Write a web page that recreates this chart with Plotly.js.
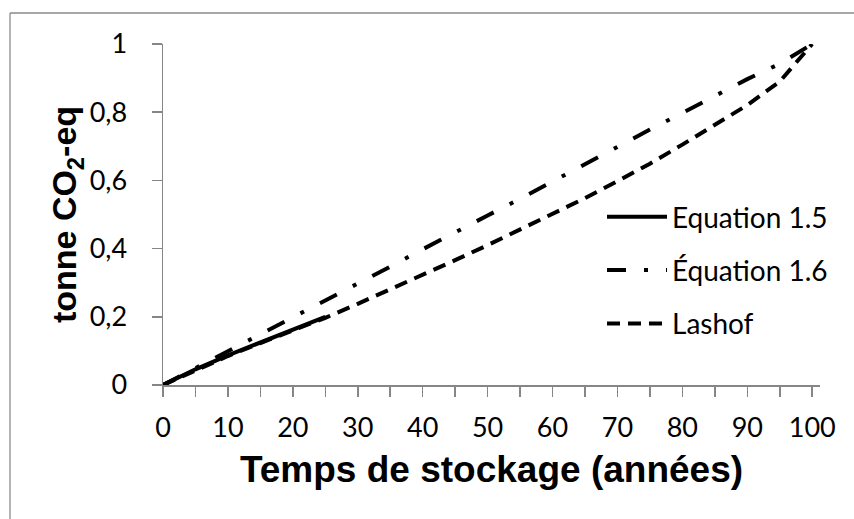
<!DOCTYPE html>
<html>
<head>
<meta charset="utf-8">
<script src="https://cdn.plot.ly/plotly-3.0.1.min.js"></script>
<style>
  html, body { margin: 0; padding: 0; background: #ffffff; overflow: hidden; }
  #chart { width: 854px; height: 519px; }
</style>
</head>
<body>
<div id="chart"></div>
<script>
// Storage time (years)
const years = [0, 5, 10, 15, 20, 25, 30, 35, 40, 45, 50, 55, 60, 65, 70, 75, 80, 85, 90, 95, 100];
// Equation 1.5 (only visible up to ~25 years)
const eq15Years = [0, 5, 10, 15, 20, 25];
const eq15Values = [0, 0.046, 0.087, 0.125, 0.163, 0.2];
// Équation 1.6
const eq16Values = [0, 0.051, 0.099, 0.149, 0.198, 0.25, 0.296, 0.347, 0.398, 0.449, 0.497, 0.546, 0.597, 0.649, 0.698, 0.749, 0.798, 0.849, 0.897, 0.942, 1.0];
// Lashof
const lashofValues = [0, 0.044, 0.085, 0.123, 0.16, 0.197, 0.238, 0.28, 0.323, 0.366, 0.41, 0.455, 0.5, 0.548, 0.598, 0.649, 0.705, 0.762, 0.821, 0.89, 1.0];

const seriesNames = ['Equation 1.5', 'Équation 1.6', 'Lashof'];
const xTitle = 'Temps de stockage (années)';
const yTitle = 'tonne CO<sub>2</sub>-eq';
const yTickVals = [0, 0.2, 0.4, 0.6, 0.8, 1];
const yTickText = ['0', '0,2', '0,4', '0,6', '0,8', '1'];

const lineColor = '#000000';
const axisColor = '#868686';
const tickFont = { family: 'Lato, "Open Sans", sans-serif', size: 27, color: '#000000' };

const traces = [
  {
    x: eq15Years, y: eq15Values, name: seriesNames[0], legendgroup: 'a',
    mode: 'lines', line: { color: lineColor, width: 4, dash: 'solid' }
  },
  {
    x: years, y: eq16Values, name: seriesNames[1], legendgroup: 'b',
    mode: 'lines', line: { color: lineColor, width: 4, dash: '19px,18px,4px,18px' }
  },
  {
    x: years, y: lashofValues, name: seriesNames[2], legendgroup: 'c',
    mode: 'lines', line: { color: lineColor, width: 4, dash: '13px,8px' }
  }
];

const L = 163, R = 34, T = 44, B = 134;
const W = 854, H = 519;
const pw = W - L - R, ph = H - T - B;
const frameX = (10 - L) / pw;
const frameY = 1 + (T - 13) / ph;

const layout = {
  width: W, height: H,
  margin: { l: L, r: R, t: T, b: B, pad: 0 },
  paper_bgcolor: '#ffffff',
  plot_bgcolor: '#ffffff',
  showlegend: true,
  legend: {
    x: (602 - L) / pw, y: (H - B - 192) / ph,
    xanchor: 'left', yanchor: 'top',
    bgcolor: 'rgba(0,0,0,0)',
    font: { family: 'Lato, "Open Sans", sans-serif', size: 28, color: '#000000' },
    tracegroupgap: 14,
    itemwidth: 60
  },
  xaxis: {
    range: [0, 101.2],
    showgrid: false, zeroline: false,
    showline: true, linecolor: axisColor, linewidth: 1.5,
    ticks: 'outside', ticklen: 10, tickwidth: 1.5, tickcolor: axisColor,
    tickmode: 'linear', tick0: 0, dtick: 10,
    minor: { tickmode: 'linear', tick0: 5, dtick: 10, ticks: 'outside', ticklen: 10, tickwidth: 1.5, tickcolor: axisColor, showgrid: false },
    tickfont: tickFont,
    ticklabelstandoff: 8,
    title: { text: xTitle, font: { family: '"Liberation Sans", Arial, sans-serif', size: 37, color: '#000000', weight: 'bold' }, standoff: 14 },
    automargin: false,
    fixedrange: true
  },
  yaxis: {
    range: [0, 1],
    showgrid: false, zeroline: false,
    showline: true, linecolor: axisColor, linewidth: 1.5,
    ticks: 'outside', ticklen: 10, tickwidth: 1.5, tickcolor: axisColor,
    tickmode: 'array', tickvals: yTickVals, ticktext: yTickText,
    tickfont: tickFont,
    ticklabelstandoff: 19,
    title: { text: yTitle, font: { family: '"Liberation Sans", Arial, sans-serif', size: 34, color: '#000000', weight: 'bold' }, standoff: 2 },
    automargin: false,
    fixedrange: true
  },
  shapes: [
    {
      type: 'line', xref: 'paper', yref: 'paper',
      x0: frameX, x1: frameX, y0: -1, y1: frameY,
      line: { color: '#8a8a8a', width: 1.3 }, layer: 'below'
    },
    {
      type: 'line', xref: 'paper', yref: 'paper',
      x0: frameX, x1: 1.5, y0: frameY, y1: frameY,
      line: { color: '#8a8a8a', width: 1.3 }, layer: 'below'
    }
  ]
};

Plotly.newPlot('chart', traces, layout, { displayModeBar: false, staticPlot: true });
</script>
</body>
</html>
